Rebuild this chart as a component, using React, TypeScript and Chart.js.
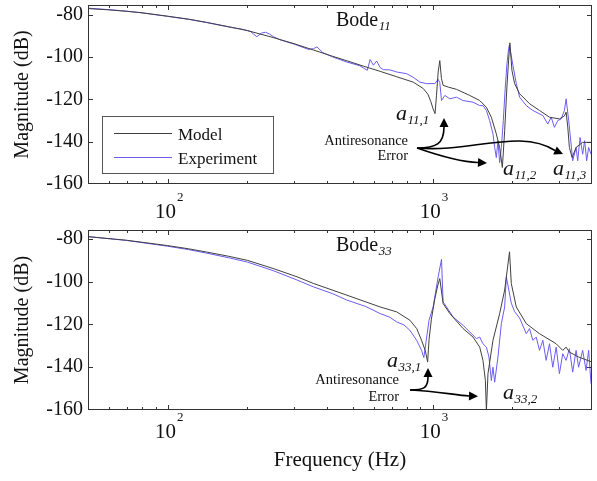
import React, { useEffect, useRef } from "react";
import { Chart, registerables } from "chart.js";
Chart.register(...registerables);

// ---------- data ----------
const seriesNames = ["Model", "Experiment"];
const xTickValues = [50, 60, 70, 80, 90, 100, 200, 300, 400, 500, 600, 700, 800, 900, 1000, 2000, 3000, 4000];
const xLabelValues = [100, 1000];
const xLabelExponents = ["2", "3"];
const yTickValues = [-160, -140, -120, -100, -80];

// Bode 11
const freqModel11 = [50, 60, 70, 80, 100, 120, 140, 170, 200, 250, 300, 355, 420, 475, 550, 634, 730, 845, 922, 960, 985, 1005, 1022, 1035, 1050, 1065, 1080, 1096, 1150, 1231, 1382, 1507, 1597, 1667, 1741, 1792, 1835, 1872, 1909, 1937, 1959, 1994, 2041, 2132, 2324, 2534, 2764, 3014, 3147, 3194, 3240, 3286, 3365, 3483, 3688, 4000];
const magModel11 = [-77.0, -77.6, -78.3, -79.0, -80.6, -82.0, -83.5, -85.6, -87.4, -90.7, -93.6, -96.6, -99.6, -101.7, -104.3, -106.7, -109.2, -111.8, -114.8, -117.5, -121.0, -124.5, -126.7, -118.0, -107.0, -101.6, -110.0, -113.3, -114.2, -115.2, -118.1, -120.5, -123.7, -128.4, -136.3, -142.7, -152.2, -134.8, -114.1, -101.4, -93.2, -106.2, -112.5, -117.3, -122.0, -125.2, -128.4, -129.2, -127.8, -126.0, -133.0, -142.7, -147.5, -142.7, -140.3, -140.3];
const freqExp11 = [50, 60, 70, 80, 100, 120, 140, 170, 190, 205, 217, 226, 234, 242, 250, 266, 300, 340, 355, 366, 385, 420, 475, 530, 567, 581, 598, 615, 634, 652, 690, 732, 798, 845, 896, 949, 1020, 1050, 1065, 1081, 1113, 1162, 1231, 1304, 1422, 1507, 1550, 1597, 1643, 1691, 1716, 1741, 1766, 1792, 1819, 1850, 1880, 1910, 1937, 1950, 2011, 2071, 2132, 2259, 2391, 2609, 2724, 2805, 2886, 2970, 3059, 3147, 3194, 3267, 3335, 3382, 3483, 3532, 3606, 3688, 3753, 3818, 3885, 3966];
const magExp11 = [-76.8, -77.5, -78.2, -79.0, -80.7, -82.1, -83.6, -85.7, -86.7, -87.8, -90.3, -88.6, -88.2, -89.0, -90.2, -91.8, -93.8, -96.3, -96.0, -95.1, -97.8, -99.9, -102.3, -104.0, -106.2, -101.1, -103.8, -101.8, -104.9, -105.9, -106.0, -107.0, -107.8, -109.5, -111.8, -112.5, -112.5, -110.5, -112.0, -120.5, -118.1, -119.7, -118.9, -120.5, -121.3, -122.9, -122.9, -125.2, -130.0, -136.3, -142.7, -147.5, -139.5, -149.9, -142.7, -130.0, -115.0, -103.0, -96.0, -94.3, -103.8, -112.5, -118.9, -122.9, -125.2, -127.6, -131.6, -128.4, -133.2, -130.0, -129.2, -125.2, -119.7, -130.0, -141.1, -149.0, -142.7, -149.0, -138.0, -145.9, -139.5, -149.0, -142.7, -145.9];

// Bode 33
const freqModel33 = [50, 70, 100, 120, 140, 170, 200, 250, 308, 355, 475, 634, 732, 821, 871, 909, 940, 958, 970, 990, 1020, 1045, 1065, 1096, 1162, 1304, 1422, 1507, 1550, 1583, 1597, 1619, 1691, 1792, 1872, 1953, 1983, 2071, 2259, 2534, 2929, 3101, 3194, 3286, 3560, 4000];
const magModel33 = [-78.9, -80.6, -83.1, -84.6, -86.1, -88.1, -90.0, -93.8, -97.7, -100.8, -106.3, -111.8, -114.1, -118.0, -121.9, -127.4, -132.5, -137.6, -127.0, -117.5, -108.0, -102.0, -98.5, -110.2, -114.9, -121.9, -125.9, -130.6, -136.8, -146.2, -160.5, -143.0, -127.4, -114.9, -103.9, -86.0, -100.8, -111.8, -119.6, -124.3, -129.0, -132.1, -130.6, -132.9, -135.2, -137.6];
const freqExp33 = [50, 70, 100, 120, 140, 170, 200, 250, 308, 355, 420, 475, 560, 634, 690, 732, 780, 821, 871, 909, 927, 945, 970, 1005, 1050, 1081, 1096, 1129, 1196, 1304, 1382, 1464, 1507, 1550, 1597, 1633, 1667, 1691, 1716, 1766, 1819, 1872, 1899, 1983, 2041, 2132, 2259, 2324, 2391, 2463, 2534, 2609, 2685, 2764, 2844, 2929, 3014, 3101, 3194, 3286, 3382, 3483, 3560, 3688, 3799, 3885, 3966];
const magExp33 = [-78.9, -80.7, -83.4, -85.0, -86.6, -88.8, -90.8, -94.8, -99.2, -102.4, -105.6, -108.6, -111.6, -114.9, -116.6, -118.8, -120.2, -122.7, -127.4, -132.1, -135.5, -128.0, -118.0, -111.8, -97.7, -89.5, -109.4, -111.8, -116.5, -120.4, -123.5, -126.6, -125.9, -129.0, -130.6, -135.2, -146.2, -140.0, -147.0, -135.2, -119.6, -111.8, -97.7, -110.0, -114.0, -117.0, -124.3, -121.9, -127.4, -125.9, -132.1, -127.4, -136.8, -129.0, -140.0, -130.6, -143.0, -133.7, -136.8, -131.3, -142.3, -132.1, -140.0, -132.1, -141.5, -132.1, -147.7];

// ---------- styles ----------
const MODEL_COLOR = "#404040";
const EXP_COLOR = "#6b5cf2";
const TEXT_COLOR = "#111111";
const SERIF = '"Liberation Serif", "Times New Roman", serif';
const f = (size: number, style = "") => `${style} ${size}px ${SERIF}`.trim();

type Pt = [number, number];
type Ann =
  | { kind: "sub"; x: number; y: number; main: string; sub: string; mainFont: string; subFont: string; dy: number }
  | { kind: "plain"; x: number; y: number; text: string; font: string; align: CanvasTextAlign };
type Arrow = { from: Pt; c1: Pt; c2: Pt; to: Pt; tip: Pt };

interface PanelCfg {
  freqM: number[]; magM: number[]; freqE: number[]; magE: number[];
  yMax: number; padTop: number; xHeight: number; xLabelBaseline: number;
  xTitle: boolean; legend: boolean; anns: Ann[]; arrows: Arrow[];
}

function drawArrow(ctx: CanvasRenderingContext2D, a: Arrow) {
  ctx.save();
  ctx.strokeStyle = "#000";
  ctx.fillStyle = "#000";
  ctx.lineWidth = 1.6;
  ctx.beginPath();
  ctx.moveTo(a.from[0], a.from[1]);
  ctx.bezierCurveTo(a.c1[0], a.c1[1], a.c2[0], a.c2[1], a.to[0], a.to[1]);
  ctx.stroke();
  const dx = a.tip[0] - a.to[0];
  const dy = a.tip[1] - a.to[1];
  const len = Math.hypot(dx, dy) || 1;
  const px = (-dy / len) * 4.5;
  const py = (dx / len) * 4.5;
  ctx.beginPath();
  ctx.moveTo(a.tip[0], a.tip[1]);
  ctx.lineTo(a.to[0] + px, a.to[1] + py);
  ctx.lineTo(a.to[0] - px, a.to[1] - py);
  ctx.closePath();
  ctx.fill();
  ctx.restore();
}

function makePlugin(cfg: PanelCfg) {
  return {
    id: "bodeDecor",
    afterDraw(chart: any) {
      const ctx: CanvasRenderingContext2D = chart.ctx;
      const { left, right, top, bottom } = chart.chartArea;
      const xs = chart.scales.x;
      const ys = chart.scales.y;
      ctx.save();
      // frame
      ctx.strokeStyle = "#333";
      ctx.lineWidth = 1;
      ctx.strokeRect(left + 0.5, top + 0.5, right - left - 1, bottom - top - 1);
      // ticks pointing inward
      ctx.beginPath();
      xTickValues.forEach((v) => {
        const px = Math.round(xs.getPixelForValue(v)) + 0.5;
        if (px <= left + 1 || px >= right - 1) return;
        const len = xLabelValues.includes(v) ? 5 : 3;
        ctx.moveTo(px, bottom);
        ctx.lineTo(px, bottom - len);
        ctx.moveTo(px, top);
        ctx.lineTo(px, top + len);
      });
      yTickValues.forEach((v) => {
        const py = Math.round(ys.getPixelForValue(v)) + 0.5;
        if (py <= top + 1 || py >= bottom - 1) return;
        ctx.moveTo(left, py);
        ctx.lineTo(left + 5, py);
        ctx.moveTo(right, py);
        ctx.lineTo(right - 5, py);
      });
      ctx.stroke();

      // x tick labels 10^n
      ctx.fillStyle = TEXT_COLOR;
      ctx.textBaseline = "alphabetic";
      xLabelValues.forEach((v, i) => {
        const px = xs.getPixelForValue(v);
        ctx.font = f(21);
        const w1 = ctx.measureText("10").width;
        ctx.font = f(13);
        const w2 = ctx.measureText(xLabelExponents[i]).width;
        const start = px - (w1 + w2) / 2 + 1;
        ctx.font = f(21);
        ctx.textAlign = "left";
        ctx.fillText("10", start, cfg.xLabelBaseline);
        ctx.font = f(13);
        ctx.fillText(xLabelExponents[i], start + w1 + 1, cfg.xLabelBaseline - 17);
      });

      // legend
      if (cfg.legend) {
        const ds = chart.data.datasets;
        ctx.strokeStyle = "#555";
        ctx.lineWidth = 1;
        ctx.fillStyle = "#fff";
        ctx.fillRect(102.5, 116.5, 171, 57);
        ctx.strokeRect(102.5, 116.5, 171, 57);
        const rows = [133.5, 157.5];
        ds.forEach((d: any, i: number) => {
          ctx.strokeStyle = d.borderColor;
          ctx.lineWidth = 1;
          ctx.beginPath();
          ctx.moveTo(114, rows[i]);
          ctx.lineTo(172, rows[i]);
          ctx.stroke();
          ctx.fillStyle = TEXT_COLOR;
          ctx.font = f(17);
          ctx.textAlign = "left";
          ctx.fillText(d.label, 178, rows[i] + 6);
        });
      }

      // annotations
      ctx.fillStyle = TEXT_COLOR;
      cfg.anns.forEach((a) => {
        if (a.kind === "plain") {
          ctx.font = a.font;
          ctx.textAlign = a.align;
          ctx.fillText(a.text, a.x, a.y);
        } else {
          ctx.textAlign = "left";
          ctx.font = a.mainFont;
          ctx.fillText(a.main, a.x, a.y);
          const w = ctx.measureText(a.main).width;
          ctx.font = a.subFont;
          ctx.fillText(a.sub, a.x + w + 0.5, a.y + a.dy);
        }
      });
      cfg.arrows.forEach((a) => drawArrow(ctx, a));
      ctx.restore();
    },
  };
}

function toPoints(fr: number[], mg: number[]) {
  return fr.map((x, i) => ({ x, y: mg[i] }));
}

function buildChart(canvas: HTMLCanvasElement, cfg: PanelCfg) {
  return new Chart(canvas, {
    type: "line",
    data: {
      datasets: [
        { label: seriesNames[0], data: toPoints(cfg.freqM, cfg.magM), borderColor: MODEL_COLOR, borderWidth: 1, pointRadius: 0, tension: 0 },
        { label: seriesNames[1], data: toPoints(cfg.freqE, cfg.magE), borderColor: EXP_COLOR, borderWidth: 1, pointRadius: 0, tension: 0 },
      ],
    },
    options: {
      responsive: false,
      animation: false,
      devicePixelRatio: 1,
      layout: { padding: { left: 0, right: 5, top: cfg.padTop, bottom: 0 } },
      plugins: { legend: { display: false }, tooltip: { enabled: false } },
      scales: {
        x: {
          type: "logarithmic",
          min: 50,
          max: 4000,
          grid: { display: false, drawTicks: false },
          border: { display: false },
          ticks: { display: false },
          title: cfg.xTitle
            ? { display: true, text: "Frequency (Hz)", color: TEXT_COLOR, font: { family: SERIF, size: 21 }, padding: { top: 0, bottom: 8 } }
            : { display: false },
          afterFit: (s: any) => { s.height = cfg.xHeight; s.paddingLeft = 0; s.paddingRight = 0; },
        },
        y: {
          type: "linear",
          min: -160,
          max: cfg.yMax,
          grid: { display: false, drawTicks: false },
          border: { display: false },
          ticks: { stepSize: 20, includeBounds: false, padding: 5, color: TEXT_COLOR, font: { family: SERIF, size: 20 } },
          title: { display: true, text: "Magnitude (dB)", color: TEXT_COLOR, font: { family: SERIF, size: 20 }, padding: { top: 11, bottom: 0 } },
          afterFit: (s: any) => { s.width = 88; s.paddingTop = 0; s.paddingBottom = 0; },
        },
      },
    } as any,
    plugins: [makePlugin(cfg)],
  } as any);
}

const topCfg: PanelCfg = {
  freqM: freqModel11, magM: magModel11, freqE: freqExp11, magE: magExp11,
  yMax: -75.3, padTop: 5, xHeight: 38, xLabelBaseline: 218, xTitle: false, legend: true,
  anns: [
    { kind: "sub", x: 336, y: 26, main: "Bode", sub: "11", mainFont: f(20), subFont: f(13, "italic"), dy: 4 },
    { kind: "sub", x: 396, y: 120, main: "a", sub: "11,1", mainFont: f(22, "italic"), subFont: f(13, "italic"), dy: 4 },
    { kind: "plain", x: 408, y: 145, text: "Antiresonance", font: f(14.5), align: "right" },
    { kind: "plain", x: 408, y: 160, text: "Error", font: f(14.5), align: "right" },
    { kind: "sub", x: 503, y: 175, main: "a", sub: "11,2", mainFont: f(22, "italic"), subFont: f(13, "italic"), dy: 4 },
    { kind: "sub", x: 553, y: 175, main: "a", sub: "11,3", mainFont: f(22, "italic"), subFont: f(13, "italic"), dy: 4 },
  ],
  arrows: [
    { from: [417, 148], c1: [436, 148], c2: [444, 144], to: [444, 127], tip: [444, 118] },
    { from: [417, 148], c1: [440, 156], c2: [460, 162], to: [478, 162.5], tip: [487, 163] },
    { from: [417, 148], c1: [470, 153], c2: [520, 128], to: [555, 150.5], tip: [563, 154] },
  ],
};

const bottomCfg: PanelCfg = {
  freqM: freqModel33, magM: magModel33, freqE: freqExp33, magE: magExp33,
  yMax: -75.8, padTop: 8, xHeight: 71, xLabelBaseline: 216, xTitle: true, legend: false,
  anns: [
    { kind: "sub", x: 336, y: 28.5, main: "Bode", sub: "33", mainFont: f(20), subFont: f(13, "italic"), dy: 4 },
    { kind: "sub", x: 387, y: 144.5, main: "a", sub: "33,1", mainFont: f(22, "italic"), subFont: f(13, "italic"), dy: 4 },
    { kind: "plain", x: 399, y: 162, text: "Antiresonance", font: f(14.5), align: "right" },
    { kind: "plain", x: 399, y: 179, text: "Error", font: f(14.5), align: "right" },
    { kind: "sub", x: 503, y: 177, main: "a", sub: "33,2", mainFont: f(22, "italic"), subFont: f(13, "italic"), dy: 4 },
  ],
  arrows: [
    { from: [410, 168], c1: [424, 168], c2: [428, 166], to: [428, 155], tip: [428, 146] },
    { from: [410, 168], c1: [435, 169], c2: [455, 173], to: [469, 174], tip: [478, 174.3] },
  ],
};

export default function App() {
  const topRef = useRef<HTMLCanvasElement | null>(null);
  const botRef = useRef<HTMLCanvasElement | null>(null);
  useEffect(() => {
    const c1 = buildChart(topRef.current!, topCfg);
    const c2 = buildChart(botRef.current!, bottomCfg);
    return () => {
      c1.destroy();
      c2.destroy();
    };
  }, []);
  return (
    <div style={{ position: "absolute", left: 0, top: 0, width: 597, height: 481, background: "#fff", overflow: "hidden" }}>
      <canvas ref={topRef} width={597} height={222} style={{ position: "absolute", left: 0, top: 0 }} />
      <canvas ref={botRef} width={597} height={259} style={{ position: "absolute", left: 0, top: 222 }} />
    </div>
  );
}
